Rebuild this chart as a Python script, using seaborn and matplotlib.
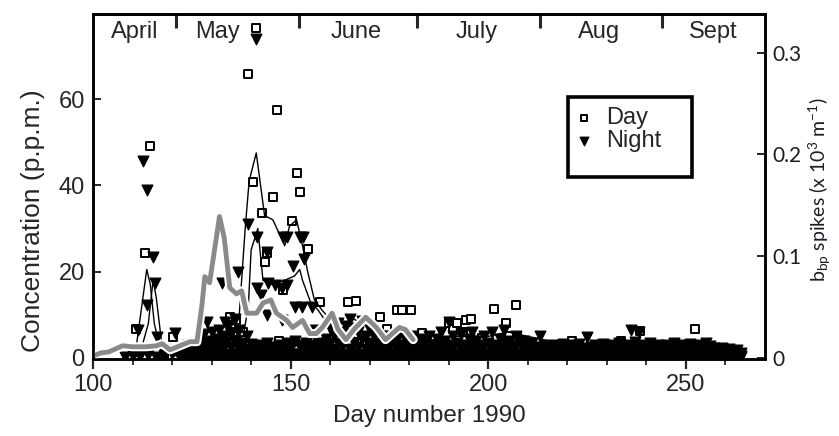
import numpy as np
import matplotlib
matplotlib.use("Agg")
import matplotlib.pyplot as plt
import matplotlib.patheffects as pe
from matplotlib.patches import Rectangle
import seaborn as sns

sns.set_style("white")
plt.rcParams["font.family"] = ["Liberation Sans", "DejaVu Sans"]
plt.rcParams["mathtext.fontset"] = "custom"
plt.rcParams["mathtext.rm"] = "Lato"
plt.rcParams["mathtext.it"] = "Lato:italic"

nan = np.nan

# ---- Day samples (open squares) ----
day_day = [113.1, 114.3, 111.0, 120.2, 118.0, 124.0, 127.0, 129.5, 132.8, 134.6,
           136.3, 135.5, 131.0, 139.1, 141.2, 146.5, 140.4, 151.5, 152.3, 145.5,
           142.7, 150.3, 154.3, 144.0, 143.4, 148.0, 157.3, 159.2, 138.0, 147.0,
           164.4, 166.6, 172.5, 176.8, 178.2, 180.5, 174.5, 183.3, 190.0, 194.4,
           191.0, 193.5, 192.2, 195.7, 201.5, 207.0, 204.5, 198.5, 205.3, 207.3,
           221.2, 224.2, 228.0, 233.6, 238.4, 252.3, 218.0, 168.0, 170.0, 185.0,
           210.0, 215.0, 230.0, 245.0, 258.0, 262.0]
day_conc = [24.4, 49.2, 6.8, 4.9, 1.0, 0.8, 1.2, 3.0, 4.9, 9.5,
            8.8, 6.0, 2.0, 65.8, 76.5, 57.4, 40.7, 42.8, 38.4, 37.4,
            33.5, 31.8, 25.3, 24.4, 22.3, 15.8, 13.0, 3.5, 6.0, 4.0,
            13.0, 13.3, 9.5, 11.0, 11.0, 11.0, 6.7, 5.8, 8.0, 8.8,
            6.7, 6.0, 8.0, 9.0, 11.4, 12.3, 8.0, 4.6, 5.1, 4.9,
            4.0, 1.6, 2.6, 4.0, 6.3, 6.7, 2.6, 4.0, 2.0, 3.0,
            2.0, 3.0, 1.5, 2.0, 1.5, 1.0]

# ---- Night samples (filled triangles), scattered high values ----
night_day = [112.7, 113.6, 115.2, 115.7, 113.7, 111.4, 116.2, 120.7, 132.6, 128.8,
             133.3, 136.6, 139.1, 141.4, 141.2, 144.0, 141.4, 144.2, 146.0, 147.7,
             149.2, 148.0, 150.5, 153.0, 152.8, 155.3, 151.0, 144.0, 147.2, 147.7,
             156.0, 149.0, 152.3, 153.5, 146.7, 138.9, 142.5, 108.0, 110.0, 112.0,
             114.0, 116.0, 118.0, 120.0, 121.0]
night_conc = [45.6, 39.0, 23.5, 17.4, 12.3, 6.5, 4.9, 5.8, 17.4, 8.4,
              8.4, 19.8, 31.0, 28.0, 74.0, 24.6, 16.3, 17.4, 17.0, 16.3,
              17.0, 28.0, 21.2, 28.0, 11.9, 11.9, 11.9, 10.0, 2.6, 8.8,
              6.5, 28.0, 28.0, 23.0, 2.5, 1.0, 14.5, 0.3, 0.5, 0.4,
              0.6, 0.3, 0.5, 0.8, 1.5]

# ---- Night samples, daily readings from day 122 to 264 ----
band_days = list(range(122, 265))
band_low = [0.5, 1.2, 0.4, 1.5, 0.6, 2.0, 0.8, 1.5, 0.5, 1.8,
            0.7, 2.2, 1.0, 2.5, 0.8, 1.8, 0.6, 2.0, 1.0, 0.5,
            1.0, 0.5, 1.2, 0.6, 1.0, 0.5, 1.2, 0.6, 1.0, 0.8,
            0.6, 1.8, 1.0, 2.5, 0.8, 2.0, 1.0, 2.2, 0.8, 2.0,
            1.0, 2.5, 0.8, 2.0, 1.0, 2.5, 0.8, 2.0, 1.0, 2.2,
            0.8, 2.0, 1.0, 2.5, 0.8, 2.0, 1.0, 2.2, 0.8, 2.0,
            1.0, 2.5, 0.8, 2.0, 1.0, 2.2, 0.8, 2.0, 1.0, 2.5,
            0.8, 2.0, 1.0, 2.2, 0.8, 2.0, 1.0, 2.5, 0.8, 2.0,
            1.0, 2.2, 0.8, 2.0, 1.0, 2.5, 0.8, 2.0, 1.0, 2.2,
            0.8, 1.8, 1.0, 2.0, 0.8, 1.5, 0.8, 1.6, 0.7, 1.5,
            0.8, 1.8, 0.7, 1.5, 0.8, 1.8, 0.7, 1.5, 0.8, 1.6,
            0.7, 1.5, 0.8, 1.8, 0.7, 1.5, 0.8, 1.6, 0.7, 1.5,
            0.8, 1.7, 0.7, 1.5, 0.8, 1.6, 0.7, 1.5, 0.8, 1.7,
            0.7, 1.5, 0.8, 1.6, 0.7, 1.5, 0.8, 1.4, 0.7, 1.2,
            0.6, 1.0, 0.5]
band_base = [0.3, 0.2, 0.6, 0.3, 0.4, 0.5, 0.3, 0.2, 0.4, 0.3,
             0.5, 0.4, 0.3, 0.6, 0.3, 0.4, 0.5, 0.3, 0.4, 0.3,
             0.4, 0.3, 0.5, 0.3, 0.4, 0.3, 0.5, 0.4, 0.3, 0.4,
             0.3, 0.5, 0.4, 0.3, 0.5, 0.4, 0.3, 0.5, 0.4, 0.3,
             0.5, 0.4, 0.3, 0.5, 0.4, 0.3, 0.5, 0.4, 0.3, 0.5,
             0.4, 0.3, 0.5, 0.4, 0.3, 0.5, 0.4, 0.3, 0.5, 0.4,
             0.3, 0.5, 0.4, 0.3, 0.5, 0.4, 0.3, 0.5, 0.4, 0.3,
             0.5, 0.4, 0.3, 0.5, 0.4, 0.3, 0.5, 0.4, 0.3, 0.5,
             0.4, 0.3, 0.5, 0.4, 0.3, 0.5, 0.4, 0.3, 0.5, 0.4,
             0.3, 0.5, 0.4, 0.3, 0.5, 0.4, 0.3, 0.5, 0.4, 0.3,
             0.4, 0.3, 0.5, 0.4, 0.3, 0.5, 0.4, 0.3, 0.5, 0.4,
             0.3, 0.5, 0.4, 0.3, 0.5, 0.4, 0.3, 0.5, 0.4, 0.3,
             0.4, 0.3, 0.5, 0.4, 0.3, 0.5, 0.4, 0.3, 0.5, 0.4,
             0.3, 0.4, 0.3, 0.5, 0.4, 0.3, 0.4, 0.3, 0.4, 0.3,
             0.3, 0.4, 0.3]
band_mid = [2.0, 2.6, 3.0, 2.2, 3.4, 4.5, 3.0, 4.0, 2.8, 4.5,
            3.2, 5.0, 3.8, 5.5, 4.0, 6.5, 3.5, 5.0, 3.2, 2.5,
            3.0, 2.0, 3.5, 2.5, 2.0, 3.0, 2.2, 3.5, 2.5, 4.0,
            3.0, 2.2, 3.5, 3.0, 2.2, 3.5, 2.5, 4.5, 3.5, 5.0,
            3.5, 6.0, 4.5, 5.5, 3.5, 6.0, 4.5, 5.0, 3.5, 5.0,
            3.5, 4.5, 3.0, 5.0, 3.5, 4.5, 3.0, 4.5, 3.5, 5.0,
            3.0, 4.5, 3.5, 5.0, 3.0, 4.5, 3.5, 4.0, 3.0, 5.0,
            3.5, 5.5, 3.0, 4.5, 3.5, 4.0, 3.0, 5.0, 3.5, 6.0,
            3.0, 4.5, 3.5, 4.0, 3.0, 5.0, 3.5, 4.0, 3.0, 3.5,
            2.5, 5.1, 3.0, 2.8, 1.8, 3.0, 2.2, 3.2, 2.0, 3.0,
            2.5, 3.2, 2.2, 4.9, 2.6, 3.0, 2.0, 3.2, 2.4, 3.0,
            2.0, 3.4, 2.6, 3.0, 2.2, 3.6, 2.5, 3.0, 2.2, 3.4,
            2.4, 3.0, 2.0, 3.0, 2.4, 3.5, 2.2, 3.0, 2.5, 3.2,
            2.0, 3.0, 2.2, 3.4, 2.8, 2.2, 1.8, 2.4, 1.6, 2.0,
            1.5, 1.8, 1.2]
band_high = [nan, nan, nan, nan, nan, nan, 5.5, nan, 6.0, 3.5,
             6.5, nan, 7.5, nan, 9.0, 3.0, nan, nan, nan, nan,
             nan, nan, nan, nan, nan, nan, nan, nan, nan, nan,
             nan, nan, nan, nan, nan, nan, nan, nan, 7.0, nan,
             8.0, nan, 7.5, 9.0, 7.0, nan, 8.5, nan, 6.5, nan,
             nan, nan, nan, nan, nan, nan, 6.0, nan, nan, nan,
             nan, nan, nan, nan, nan, nan, 6.0, nan, 8.4, nan,
             nan, nan, nan, nan, 6.0, nan, nan, nan, nan, nan,
             nan, nan, 6.5, nan, nan, nan, nan, nan, nan, nan,
             nan, nan, nan, nan, nan, nan, nan, nan, nan, nan,
             nan, nan, nan, nan, nan, nan, nan, nan, nan, nan,
             nan, nan, nan, nan, 6.5, nan, 6.0, nan, nan, nan,
             nan, nan, nan, nan, nan, nan, nan, nan, nan, nan,
             nan, nan, nan, nan, nan, nan, nan, nan, nan, nan,
             nan, nan, nan]

# ---- Running means of day and night concentration ----
dayline_day = [111, 113.6, 114.5, 115.5, 116.5, 118, 122, 126, 130, 134,
               137, 138.5, 139.5, 141.3, 143.4, 145.5, 147, 148.5, 149.7, 151.5,
               153, 154.3, 156, 158, 160, 163, 166, 170, 175, 180,
               185, 190, 195, 200, 205, 210, 215, 220, 225, 230,
               235, 240, 245, 250, 255, 260, 265]
dayline_conc = [3, 20.5, 17, 8, 4, 3, 2, 3, 4, 6,
                10, 30, 41, 47.5, 33, 32, 29, 26, 30.5, 32,
                26, 20, 13.5, 11, 9, 8, 9, 7, 6, 5,
                4, 5, 5, 5, 6, 5, 4, 3, 3, 3,
                3, 3, 2, 3, 2, 2, 1]
nightline_day = [111, 112.5, 114, 115.2, 116, 117.3, 119, 125, 130, 135,
                 138, 139.3, 140, 141.7, 143, 145, 148.5, 151, 152.3, 153,
                 155, 157, 160, 165, 170, 180, 190, 200, 210, 220,
                 230, 240, 250, 260, 265]
nightline_conc = [1, 3, 8, 18, 14, 4, 3, 2, 3, 4,
                  5, 12, 25, 30, 18, 17, 18, 19, 20.5, 18,
                  13, 11, 7, 5, 4, 3, 3, 3, 3, 2,
                  2, 2, 2, 1, 1]

# ---- b_bp spikes (right axis) ----
bbp_day = [100, 102, 104, 107.5, 110, 113.5, 116, 117.5, 119.5, 122,
           124.5, 126.3, 127.5, 128.3, 129.5, 132.0, 133.2, 134.6, 136.3, 137.6,
           138.9, 141.4, 143, 145, 146.4, 149, 150.5, 153, 154.8, 156.5,
           158, 160.5, 162, 164, 166, 169, 171.7, 174, 177.5, 179, 181]
bbp_val = [0.002, 0.005, 0.006, 0.012, 0.011, 0.011, 0.012, 0.014, 0.008, 0.012,
           0.016, 0.016, 0.050, 0.080, 0.074, 0.139, 0.118, 0.069, 0.063, 0.066,
           0.044, 0.044, 0.054, 0.057, 0.044, 0.037, 0.030, 0.037, 0.024, 0.024,
           0.030, 0.044, 0.028, 0.018, 0.028, 0.040, 0.030, 0.018, 0.030, 0.028,
           0.018]

months = ["April", "May", "June", "July", "Aug", "Sept"]
month_starts = [121, 152, 182, 213, 244]

# ---------------------------------------------------------------------------
fig = plt.figure(figsize=(8.39, 4.36), dpi=100)
ax = fig.add_axes([93 / 839, 1 - 359 / 436, 672 / 839, 345 / 436])

band_x = band_days * 4
band_y = band_base + band_low + band_mid + band_high
night_x = night_day + band_x
night_y = night_conc + band_y
keep = [i for i, v in enumerate(night_y) if not np.isnan(v)]
night_x = [night_x[i] for i in keep]
night_y = [night_y[i] for i in keep]

sns.scatterplot(x=day_day, y=day_conc, marker="s", s=28, facecolor="white",
                edgecolor="black", linewidth=1.4, ax=ax, zorder=3, label="Day")
sns.scatterplot(x=night_x, y=night_y, marker="v", s=60, color="black",
                edgecolor="black", linewidth=0.9, ax=ax, zorder=4, label="Night")
sns.lineplot(x=dayline_day, y=dayline_conc, color="black", linewidth=1.0,
             ax=ax, zorder=5, sort=False, estimator=None)
sns.lineplot(x=nightline_day, y=nightline_conc, color="black", linewidth=1.0,
             ax=ax, zorder=5, sort=False, estimator=None)

ax.set_xlim(100, 270)
ax.set_ylim(-0.25, 79.7)
ax.set_xticks([100, 150, 200, 250])
ax.set_xticks(list(range(110, 270, 10)), minor=True)
ax.set_yticks([0, 20, 40, 60])
ax.tick_params(axis="x", which="major", direction="out", length=7, width=1.6,
               labelsize=17, pad=4, bottom=True, top=False)
ax.tick_params(axis="x", which="minor", direction="out", length=4, width=1.3,
               bottom=True, top=False)
ax.tick_params(axis="y", direction="in", length=6, width=1.4, labelsize=17,
               left=True, right=False, pad=6)
for sp in ax.spines.values():
    sp.set_linewidth(1.8)
    sp.set_color("black")
ax.set_xlabel("Day number 1990", fontsize=17.5, labelpad=6)
ax.set_ylabel("Concentration (p.p.m.)", fontsize=19)
ax.yaxis.set_label_coords(-0.072, 0.40)

# month band along the top edge
top = ax.secondary_xaxis("top")
top.set_xticks(month_starts)
top.tick_params(direction="in", length=10, width=2.2, labeltop=False)
top.spines["top"].set_linewidth(1.8)
for name, d in zip(months, [110.5, 131.5, 166.5, 197.0, 228.0, 257.0]):
    ax.text(d, 75.5, name, ha="center", va="center", fontsize=17)

# legend with a heavy frame
leg = ax.legend(loc="upper left", bbox_to_anchor=(0.713, 0.73), frameon=False,
                fontsize=17, handlelength=1.0, handletextpad=0.45,
                borderpad=0, borderaxespad=0, labelspacing=0.05, markerscale=0.8)
ax.add_patch(Rectangle((0.707, 0.528), 0.184, 0.231, transform=ax.transAxes,
                       fill=False, edgecolor="black", linewidth=2.6, zorder=6))

# right axis: b_bp spikes
ax2 = ax.twinx()
sns.lineplot(x=bbp_day, y=bbp_val, ax=ax2, color="#8a8a8a", linewidth=3.5,
             sort=False, estimator=None,
             path_effects=[pe.Stroke(linewidth=6.5, foreground="white"), pe.Normal()])
ax2.set_ylim(-0.001, 0.338)
ax2.set_yticks([0, 0.1, 0.2, 0.3])
ax2.set_yticklabels(["0", "0.1", "0.2", "0.3"], fontfamily="Lato", fontsize=15,
                    color="#1c1c28")
ax2.tick_params(axis="y", direction="in", length=6, width=1.4, pad=5)
for sp in ax2.spines.values():
    sp.set_linewidth(1.8)
    sp.set_color("black")
ax2.set_ylabel(r"b$_{\mathrm{bp}}$ spikes (x 10$^{3}$ m$^{-1}$)", fontfamily="Lato",
               fontsize=14, color="#1c1c28")
ax2.yaxis.set_label_coords(1.063, 0.49)

fig.savefig("out.png", dpi=100)
